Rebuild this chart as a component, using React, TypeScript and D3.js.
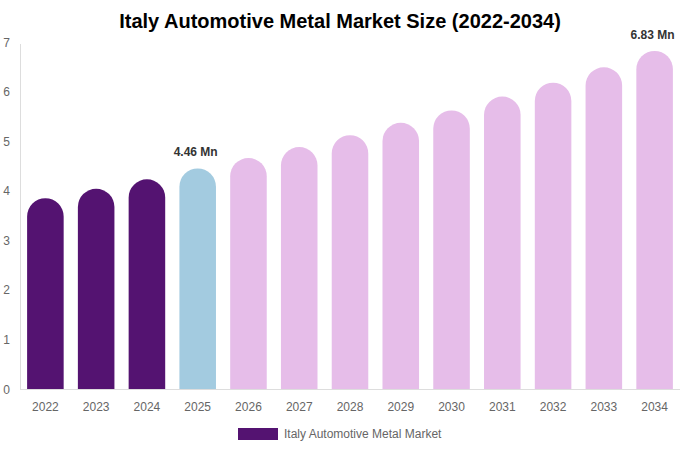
import React from "react";
import * as d3 from "d3";

const years = ["2022","2023","2024","2025","2026","2027","2028","2029","2030","2031","2032","2033","2034"];
const values = [3.86, 4.05, 4.24, 4.46, 4.67, 4.89, 5.13, 5.38, 5.63, 5.91, 6.19, 6.50, 6.83];
const barColors = ["#541371","#541371","#541371","#a3cbe0","#e6bde9","#e6bde9","#e6bde9","#e6bde9","#e6bde9","#e6bde9","#e6bde9","#e6bde9","#e6bde9"];
const labelled = ["2025", "2034"];
const yTicks = [0,1,2,3,4,5,6,7];
const title = "Italy Automotive Metal Market Size (2022-2034)";
const legendLabel = "Italy Automotive Metal Market";

const W = 680, H = 450;
const left = 20, right = 680, top = 42.5, bottom = 389.5;

export default function App() {
  const x = d3.scaleBand<string>().domain(years).range([left, right]).paddingInner(0.28).paddingOuter(0.14);
  const y = d3.scaleLinear().domain([0, 7]).range([bottom, top]);
  const bw = x.bandwidth();
  const r = bw / 2;
  const font = "'Liberation Sans', Arial, sans-serif";

  const barPath = (xv: number, v: number) => {
    const yt = y(v);
    const y0 = y(0);
    const p = d3.path();
    p.moveTo(xv, y0);
    p.lineTo(xv, yt + r);
    p.arc(xv + r, yt + r, r, Math.PI, 0, false);
    p.lineTo(xv + bw, y0);
    p.closePath();
    return p.toString();
  };

  return (
    <svg width={W} height={H} style={{ position: "absolute", left: 0, top: 0, background: "#fff" }} fontFamily={font}>
      <text x={340} y={28} textAnchor="middle" fontSize={20} fontWeight="bold" fill="#000">{title}</text>
      <line x1={left + 0.5} x2={left + 0.5} y1={44} y2={bottom} stroke="#ddd" strokeWidth={1} />
      {yTicks.map(t => (
        <text key={t} x={10} y={y(t) + 4} textAnchor="end" fontSize={12} fill="#666">{t}</text>
      ))}
      {years.map((yr, i) => (
        <path key={yr} d={barPath(x(yr)!, values[i])} fill={barColors[i]} />
      ))}
      <line x1={left} x2={right} y1={bottom} y2={bottom} stroke="#ddd" strokeWidth={1} />
      {years.map(yr => (
        <text key={yr} x={x(yr)! + bw / 2} y={411} textAnchor="middle" fontSize={12} fill="#666">{yr}</text>
      ))}
      {years.map((yr, i) => labelled.includes(yr) ? (
        <text key={"l" + yr} x={x(yr)! + bw / 2 - 2} y={y(values[i]) - 12} textAnchor="middle" fontSize={12} fontWeight="bold" fill="#333">{values[i].toFixed(2)} Mn</text>
      ) : null)}
      <rect x={238} y={428} width={40} height={12} fill="#541371" />
      <text x={284} y={437.5} fontSize={12} fill="#666">{legendLabel}</text>
    </svg>
  );
}
